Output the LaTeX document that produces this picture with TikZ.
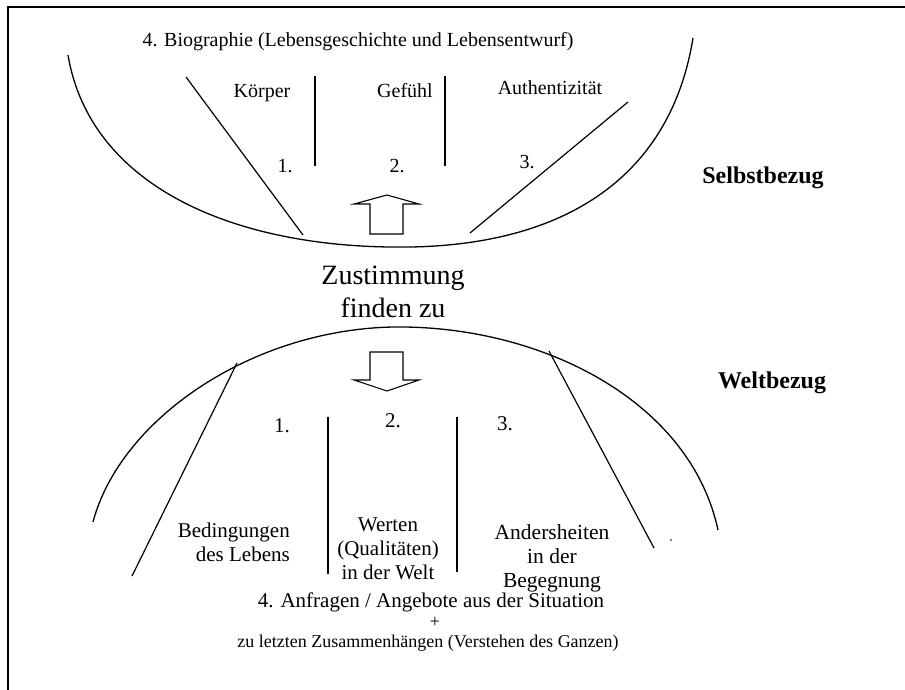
\documentclass[tikz,border=0pt]{standalone}
\usepackage{fontspec}
\setmainfont{Liberation Serif}
\begin{document}
\begin{tikzpicture}[x=1pt,y=-1pt,
  curve/.style={line width=1.3pt},
  ln/.style={line width=1.2pt},
  blockarrow/.style={line width=1.1pt, fill=white, line join=miter},
  lbl/.style={inner sep=0pt, text height=0.7em, text depth=0.22em, font=\fontsize{20}{24}\selectfont},
  lbllow/.style={inner sep=0pt, font=\fontsize{21}{24}\selectfont},
  bigtxt/.style={inner sep=0pt, align=center, font=\fontsize{28}{33}\selectfont},
  side/.style={inner sep=0pt, text height=0.7em, text depth=0.22em, font=\bfseries\fontsize{24}{28}\selectfont}]
\useasboundingbox (0,0) rectangle (905,690);
\draw[line width=2pt] (8,690) -- (8,7) -- (905,7);

% upper bowl
\coordinate (uL) at (68,55);
\coordinate (uB) at (390,247);
\coordinate (uR) at (693,38);
\draw[curve] (uL) .. controls (90,185) and (230,245) .. (uB)
             .. controls (560,250) and (670,180) .. (uR);
\coordinate (ul1) at (186,77);  \coordinate (ul2) at (303,235);
\coordinate (ur1) at (628,102); \coordinate (ur2) at (470,233);
\draw[ln] (ul1) -- (ul2);
\draw[ln] (ur1) -- (ur2);
\coordinate (uv1a) at (315,76); \coordinate (uv1b) at (315,166);
\coordinate (uv2a) at (445,76); \coordinate (uv2b) at (445,166);
\draw[ln] (uv1a) -- (uv1b);
\draw[ln] (uv2a) -- (uv2b);

\node[lbl] (bio) at (358,44) {4. Biographie (Lebensgeschichte und Lebensentwurf)};
\node[lbl] (koerper) at (262,95) {Körper};
\node[lbl] (gefuehl) at (405,95) {Gefühl};
\node[lbl] (auth) at (550,92) {Authentizität};
\node[lbl] (n1o) at (285,170) {1.};
\node[lbl] (n2o) at (397,170) {2.};
\node[lbl] (n3o) at (527,166) {3.};
\node[side] (selbst) at (763,181) {Selbstbezug};

% up arrow
\draw[blockarrow] (387,195) -- (419,204) -- (403,204) -- (403,234) -- (370,234) -- (370,204) -- (354,204) -- cycle;

\node[bigtxt] (zust) at (393,292) {Zustimmung\\finden zu};

% down arrow
\draw[blockarrow] (370,352) -- (403,352) -- (403,380) -- (419,380) -- (387,391) -- (354,380) -- (370,380) -- cycle;

% lower dome
\coordinate (lL) at (93,522);
\coordinate (lT) at (393,327);
\coordinate (lR) at (718,530);
\draw[curve] (lL) .. controls (120,420) and (250,330) .. (lT)
             .. controls (540,325) and (690,400) .. (lR);
\coordinate (ll1) at (237,363); \coordinate (ll2) at (132,576);
\coordinate (lr1) at (549,351); \coordinate (lr2) at (654,548);
\draw[ln] (ll1) -- (ll2);
\draw[ln] (lr1) -- (lr2);
\coordinate (lv1a) at (328,417); \coordinate (lv1b) at (328,574);
\coordinate (lv2a) at (457,417); \coordinate (lv2b) at (457,572);
\draw[ln] (lv1a) -- (lv1b);
\draw[ln] (lv2a) -- (lv2b);
\fill (671,540) circle (0.9pt);

\node[side] (welt) at (772,386) {Weltbezug};
\node[lbl, font=\fontsize{21}{24}\selectfont] (n1u) at (282,430) {1.};
\node[lbl, font=\fontsize{21}{24}\selectfont] (n2u) at (393,425) {2.};
\node[lbl, font=\fontsize{21}{24}\selectfont] (n3u) at (505,428) {3.};
\node[lbllow, align=right, anchor=east] (bed) at (290,542) {Bedingungen\\des Lebens};
\node[lbllow, align=center] (wert) at (388,549) {Werten\\(Qualitäten)\\in der Welt};
\node[lbllow, align=center, font=\fontsize{21.5}{24}\selectfont] (anders) at (552,558) {Andersheiten\\in der\\Begegnung};

\node[lbl, font=\fontsize{21}{24}\selectfont] (anfr) at (431,605) {4. Anfragen / Angebote aus der Situation};
\node[inner sep=0pt, font=\fontsize{18}{20}\selectfont] (plus) at (435,622) {+};
\node[lbl, font=\fontsize{18}{20}\selectfont] (letzt) at (428,645) {zu letzten Zusammenhängen (Verstehen des Ganzen)};
\end{tikzpicture}
\end{document}
